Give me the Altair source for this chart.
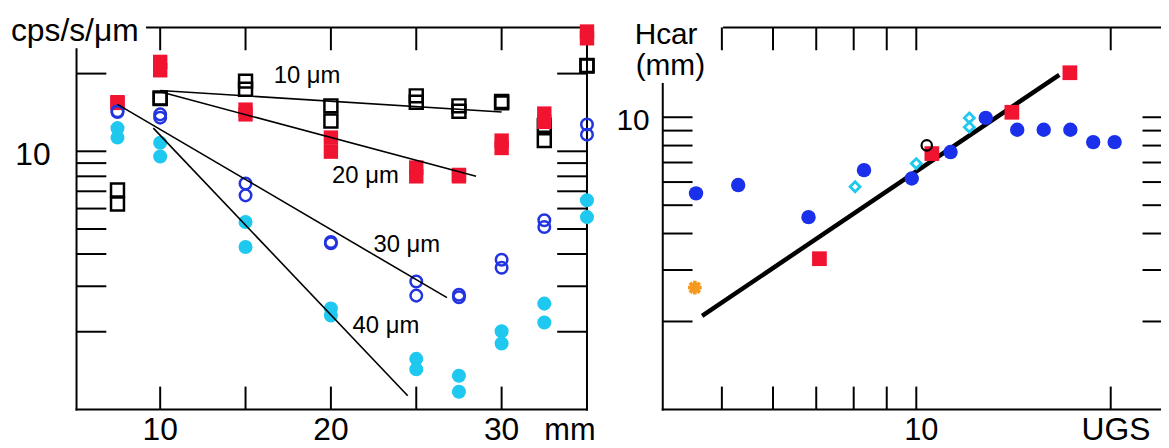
import altair as alt
import pandas as pd

# ---------------- Left panel: count rate (cps/s/um) vs depth (mm) ----------------
left_x = [7.5, 10, 15, 20, 25, 27.5, 30, 32.5, 35]
sq10_a = [7.08, 16.1, 18.7, 15.0, 16.4, 15.0, 15.6, 11.0, 21.5]
sq10_b = [6.25, 16.0, 17.4, 13.1, 15.5, 14.3, 15.4, 12.6, 21.4]
sq20_a = [15.5, 22.2, 14.5, 11.3, 8.65, 8.1, 11.0, 14.0, 29.1]
sq20_b = [15.4, 20.6, 13.9, 9.97, 8.0, 8.0, 10.3, 13.0, 27.4]
c30_a = [14.3, 13.9, 7.5, 4.45, 3.13, 2.78, 3.80, 5.41, 12.7]
c30_b = [14.2, 13.5, 6.75, 4.40, 2.76, 2.72, 3.54, 5.09, 11.6]
c40_a = [12.3, 10.8, 5.32, 2.46, 1.57, 1.35, 2.01, 2.57, 6.46]
c40_b = [11.3, 9.54, 4.26, 2.31, 1.43, 1.17, 1.80, 2.17, 5.56]

fit_series = ["10", "10", "20", "20", "30", "30", "40", "40"]
fit_x = [10, 30, 10, 28.5, 7.5, 26.8, 9.6, 24.5]
fit_y = [17.2, 14.2, 17.0, 8.0, 15.2, 2.71, 12.3, 1.13]

ann_text = ["10 μm", "20 μm", "30 μm", "40 μm"]
ann_x = [16.65, 20.07, 22.49, 21.27]
ann_y = [18.4, 7.51, 4.07, 1.97]

left_xticks = [10, 15, 20, 25, 30]
left_yticks = [2, 3, 4, 5, 6, 7, 8, 9, 10, 20]
left_xlabels = [10, 20, 30]
left_ylabels = [10]

# ---------------- Right panel: Hcar (mm) vs UGS ----------------
blue_x = [4.56, 5.30, 6.81, 8.30, 9.84, 11.30, 12.81, 14.33, 15.75, 17.32, 18.79, 20.28]
blue_y = [5.49, 5.86, 4.55, 6.59, 6.17, 7.60, 9.95, 9.06, 9.06, 9.06, 8.22, 8.22]
red_x = [7.08, 10.57, 14.06, 17.29]
red_y = [3.28, 7.51, 10.4, 14.2]
ring_x = [10.38]
ring_y = [8.01]
diam_x = [8.04, 10.0, 12.08, 12.08]
diam_y = [5.78, 6.94, 9.95, 9.25]
star_x = [4.54]
star_y = [2.61]
rfit_x = [4.66, 16.65]
rfit_y = [2.09, 13.97]

right_xticks = [5, 6, 7, 8, 9, 10, 20]
right_yticks = [2, 3, 4, 5, 6, 7, 8, 9, 10]
right_xlabels = [10]
right_ylabels = [10]

# ---------------- scales ----------------
LX = alt.Scale(type="linear", domain=[5.1, 35], range=[69, 583], nice=False, zero=False)
LY = alt.Scale(type="log", domain=[1, 30.2], range=[402.7, 18], nice=False)
RX = alt.Scale(type="log", domain=[4.05, 25], range=[659.3, 1173.4], nice=False)
RY = alt.Scale(type="log", domain=[1, 20.3], range=[402.7, 18], nice=False)

FONT = "Liberation Sans"
RED = "#f01430"
BLUE = "#2233e0"
CYAN = "#1ec8ee"
ORANGE = "#f59a1e"

L, R, T, B = 69, 583, 18, 402.7
L2, R2 = 659.3, 1173.4
BASE = 433  # baseline of the bottom tick labels
one = pd.DataFrame({"a": [0]})


def seg(x1, y1, x2, y2, w=2.0):
    return alt.Chart(one).mark_rule(color="black", strokeWidth=w, strokeCap="square").encode(
        x=alt.value(x1), x2=alt.value(x2), y=alt.value(y1), y2=alt.value(y2))


def pts(xs, ys, sx, sy, **mk):
    df = pd.DataFrame({"x": xs, "y": ys})
    return alt.Chart(df).mark_point(opacity=1, **mk).encode(
        x=alt.X("x:Q", scale=sx, axis=None), y=alt.Y("y:Q", scale=sy, axis=None))


def yticks(vals, sy, x1, x2):
    return alt.Chart(pd.DataFrame({"v": vals})).mark_rule(color="black", strokeWidth=2).encode(
        y=alt.Y("v:Q", scale=sy, axis=None), x=alt.value(x1), x2=alt.value(x2))


def xticks(vals, sx, y1, y2):
    return alt.Chart(pd.DataFrame({"v": vals})).mark_rule(color="black", strokeWidth=2).encode(
        x=alt.X("v:Q", scale=sx, axis=None), y=alt.value(y1), y2=alt.value(y2))


def label(txt, x, y, size, align="left"):
    return alt.Chart(one).mark_text(text=txt, font=FONT, fontSize=size, align=align,
                                    baseline="alphabetic", color="black").encode(
        x=alt.value(x), y=alt.value(y))


layers = []

# ---- left panel frame (top-left corner hidden behind the axis title) ----
layers += [seg(140, T, R, T), seg(L, 40, L, B), seg(R, T, R, B), seg(L, B, R, B)]
layers += [yticks(left_yticks, LY, L, L + 30), yticks(left_yticks, LY, R - 30, R),
           xticks(left_xticks, LX, T, T + 23), xticks(left_xticks, LX, B - 23, B)]

# ---- left panel points ----
layers.append(pts(left_x * 2, sq10_a + sq10_b, LX, LY, shape="square", filled=False,
                  stroke="black", strokeWidth=2.5, size=170))
layers.append(pts(left_x * 2, sq20_a + sq20_b, LX, LY, shape="square", filled=True,
                  color=RED, size=210))
layers.append(pts(left_x * 2, c30_a + c30_b, LX, LY, shape="circle", filled=False,
                  stroke=BLUE, strokeWidth=2.5, size=135))
layers.append(pts(left_x * 2, c40_a + c40_b, LX, LY, shape="circle", filled=True,
                  color=CYAN, size=200))

fit_df = pd.DataFrame({"s": fit_series, "x": fit_x, "y": fit_y})
layers.append(alt.Chart(fit_df).mark_line(color="black", strokeWidth=1.6).encode(
    x=alt.X("x:Q", scale=LX, axis=None), y=alt.Y("y:Q", scale=LY, axis=None), detail="s:N"))

ann_df = pd.DataFrame({"t": ann_text, "x": ann_x, "y": ann_y})
layers.append(alt.Chart(ann_df).mark_text(font=FONT, fontSize=24, align="left",
                                          baseline="alphabetic", color="black").encode(
    x=alt.X("x:Q", scale=LX, axis=None), y=alt.Y("y:Q", scale=LY, axis=None), text="t:N"))

# ---- left panel tick labels and titles ----
layers.append(alt.Chart(pd.DataFrame({"v": left_ylabels})).mark_text(
    font=FONT, fontSize=32, align="right", baseline="alphabetic", dy=14).encode(
    y=alt.Y("v:Q", scale=LY, axis=None), x=alt.value(43), text="v:Q"))
layers.append(alt.Chart(pd.DataFrame({"v": left_xlabels})).mark_text(
    font=FONT, fontSize=32, align="center", baseline="alphabetic").encode(
    x=alt.X("v:Q", scale=LX, axis=None), y=alt.value(BASE), text="v:Q"))
layers.append(label("cps/s/μm", 3, 32, 32))
layers.append(label("mm", 540, BASE, 31))

# ---- right panel frame ----
layers += [seg(721, T, 1161, T), seg(L2, 75, L2, B), seg(L2, B, 1161, B)]
layers += [yticks(right_yticks, RY, L2, L2 + 30), yticks(right_yticks, RY, R2 - 31, R2),
           xticks(right_xticks, RX, T, T + 23), xticks(right_xticks, RX, B - 23, B)]

rfit_df = pd.DataFrame({"x": rfit_x, "y": rfit_y})
layers.append(alt.Chart(rfit_df).mark_line(color="black", strokeWidth=4.5).encode(
    x=alt.X("x:Q", scale=RX, axis=None), y=alt.Y("y:Q", scale=RY, axis=None)))

layers.append(pts(blue_x, blue_y, RX, RY, shape="circle", filled=True, color="#1a30ea", size=210))
layers.append(pts(red_x, red_y, RX, RY, shape="square", filled=True, color=RED, size=220))
layers.append(pts(ring_x, ring_y, RX, RY, shape="circle", filled=False, stroke="black",
                  strokeWidth=2.2, size=110))
layers.append(pts(diam_x, diam_y, RX, RY, shape="diamond", filled=False, stroke=CYAN,
                  strokeWidth=2.8, size=100))
layers.append(pts(star_x, star_y, RX, RY,
                  shape="M-1,0L1,0M0,-1L0,1M-0.72,-0.72L0.72,0.72M-0.72,0.72L0.72,-0.72",
                  filled=False, stroke=ORANGE, strokeWidth=3.8, size=190))

layers.append(alt.Chart(pd.DataFrame({"v": right_ylabels})).mark_text(
    font=FONT, fontSize=30, align="right", baseline="alphabetic", dy=13).encode(
    y=alt.Y("v:Q", scale=RY, axis=None), x=alt.value(646), text="v:Q"))
layers.append(alt.Chart(pd.DataFrame({"v": right_xlabels})).mark_text(
    font=FONT, fontSize=31, align="center", baseline="alphabetic", dx=5).encode(
    x=alt.X("v:Q", scale=RX, axis=None), y=alt.value(BASE), text="v:Q"))
layers.append(label("Hcar", 631, 35, 30))
layers.append(label("(mm)", 632, 66, 30))
layers.append(label("UGS", 1081, BASE, 32))

chart = alt.layer(*layers).resolve_scale(x="independent", y="independent").properties(
    width=1161, height=440, padding=0, autosize=alt.AutoSizeParams(type="none")
).configure_view(stroke=None)

chart.save("out.html", embed_options={"renderer": "svg", "actions": False})
